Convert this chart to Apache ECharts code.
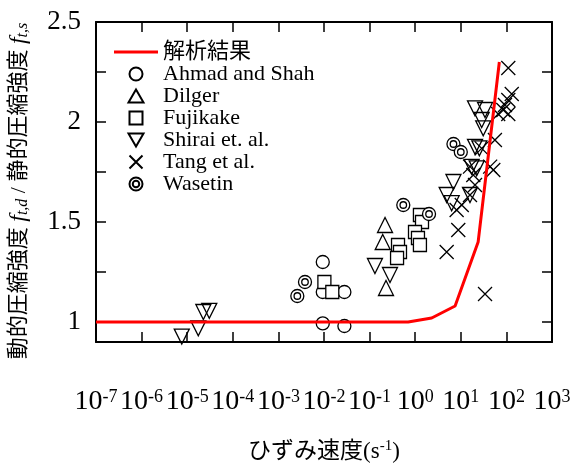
<!DOCTYPE html>
<html>
<head>
<meta charset="utf-8">
<script src="https://cdn.jsdelivr.net/npm/echarts@6/dist/echarts.min.js"></script>
<style>
html,body{margin:0;padding:0;background:#fff;}
#chart{width:579px;height:465px;}
</style>
</head>
<body>
<div id="chart"></div>
<script>
// ---- data (strain rate [1/s], dynamic/static compressive strength ratio) ----
const analysisRate  = [1e-7, 0.7, 2.3, 7.5, 24, 70];
const analysisRatio = [1.0, 1.0, 1.02, 1.08, 1.4, 2.3];

const ahmadShah = [[0.0094,1.30],[0.0094,1.15],[0.028,1.15],[0.0094,0.993],[0.028,0.98]];
const dilger = [[0.218,1.485],[0.194,1.40],[0.229,1.17]];
const fujikake = [[0.0102,1.20],[0.0152,1.15],[0.42,1.385],[0.464,1.35],[0.40,1.32],
                  [1.27,1.535],[1.41,1.50],[0.99,1.45],[1.15,1.42],[1.27,1.385]];
const shirai = [[7.6e-6,0.927],[1.75e-5,0.968],[2.26e-5,1.05],[3.05e-5,1.056],
                [0.131,1.28],[0.28,1.235],
                [20.5,2.068],[34,2.06],[28.7,2.01],[31,1.968],[20.5,1.876],[25.5,1.868],
                [17.3,1.776],[22.3,1.768],[6.9,1.70],[4.9,1.635],[15.9,1.635],[6.3,1.594]];
const tang = [[110,2.27],[131,2.14],[110,2.11],[85.5,2.06],[66,2.04],[93,2.085],[110,2.04],
              [56,1.91],[28.7,1.868],[44,1.777],[51.6,1.76],[15.9,1.777],[18.8,1.735],
              [20.5,1.685],[15.9,1.635],[10.5,1.585],[8.1,1.56],[8.8,1.46],[4.9,1.35],[34,1.14]];
const wasetin = [[0.0026,1.13],[0.00383,1.20],[0.548,1.585],[2.01,1.54],[6.9,1.89],[10,1.85]];

const xTickValues = [1e-7,1e-6,1e-5,1e-4,1e-3,1e-2,1e-1,1e0,1e1,1e2,1e3];
const yTickValues = [1,1.25,1.5,1.75,2,2.25,2.5];
const yLabelValues = [1,1.5,2,2.5];

const seriesNames = ['解析結果','Ahmad and Shah','Dilger','Fujikake','Shirai et. al.','Tang et al.','Wasetin'];

// ---- styles ----
const SERIF = "'Liberation Serif','Times New Roman','Noto Sans CJK JP',serif";
const CJK = "'Liberation Serif','Noto Sans CJK JP',serif";
const UP_TRI = 'path://M5,0L10,8.66L0,8.66Z';
const DOWN_TRI = 'path://M0,0L10,0L5,8.66Z';
const SQUARE = 'path://M0,0L10,0L10,10L0,10Z';
const CIRCLE = 'path://M0,-10A10,10,0,1,1,0,10A10,10,0,1,1,0,-10Z';
const CROSS = 'path://M0,0L10,10M0,10L10,0';
const DCIRCLE = 'path://M0,-10A10,10,0,1,1,0,10A10,10,0,1,1,0,-10ZM0,-5A5,5,0,1,1,0,5A5,5,0,1,1,0,-5Z';
const LINE_ICON = 'path://M0,0L44,0L44,3L0,3Z';

const chart = echarts.init(document.getElementById('chart'), null, {renderer:'canvas'});

function scatter(name, data, symbol, size, fill) {
  return {
    name, type:'scatter', data, symbol, symbolSize:size, z:2,
    itemStyle:{color:fill, borderColor:'#000', borderWidth:1.3, opacity:1}
  };
}

const tickStyle = {show:true, inside:true, length:10, lineStyle:{color:'#000', width:1.5}};

const option = {
  animation:false,
  backgroundColor:'#fff',
  grid:{left:96, right:27, top:22, bottom:123, show:false, containLabel:false, outerBoundsMode:'none'},
  legend:{
    orient:'vertical', left:114, top:41, padding:0,
    itemWidth:44, itemHeight:13, itemGap:0,
    textStyle:{fontFamily:CJK, fontSize:22, lineHeight:22, color:'#000'},
    data:[
      {name:'解析結果', icon:LINE_ICON},
      {name:'Ahmad and Shah', icon:CIRCLE},
      {name:'Dilger', icon:UP_TRI},
      {name:'Fujikake', icon:SQUARE},
      {name:'Shirai et. al.', icon:DOWN_TRI},
      {name:'Tang et al.', icon:CROSS},
      {name:'Wasetin', icon:DCIRCLE}
    ]
  },
  xAxis:[{
    type:'log', logBase:10, min:1e-7, max:1e3, position:'bottom',
    axisLine:{show:true, onZero:false, lineStyle:{color:'#000', width:2}},
    axisTick:Object.assign({customValues:xTickValues}, tickStyle),
    splitLine:{show:false},
    axisLabel:{
      customValues:xTickValues, margin:46, color:'#000',
      formatter:function(v){ const e = Math.round(Math.log10(v)); return '{b|10}{s|' + e + '}'; },
      rich:{
        b:{fontFamily:SERIF, fontSize:28, color:'#000', lineHeight:28},
        s:{fontFamily:SERIF, fontSize:18, color:'#000', verticalAlign:'top', lineHeight:28, padding:[0,0,13,0]}
      }
    },
    name:'ひずみ速度(s{s|-1})', nameLocation:'middle', nameGap:97,
    nameTextStyle:{fontFamily:CJK, fontSize:23, color:'#000',
      rich:{s:{fontFamily:SERIF, fontSize:15, color:'#000', verticalAlign:'top', padding:[0,0,10,0]}}}
  },{
    type:'log', logBase:10, min:1e-7, max:1e3, position:'top',
    axisLine:{show:true, onZero:false, lineStyle:{color:'#000', width:2}},
    axisTick:Object.assign({customValues:xTickValues}, tickStyle),
    axisLabel:{show:false}, splitLine:{show:false}
  }],
  yAxis:[{
    type:'value', min:0.9, max:2.5, position:'left',
    axisLine:{show:true, onZero:false, lineStyle:{color:'#000', width:2}},
    axisTick:Object.assign({customValues:yTickValues}, tickStyle),
    splitLine:{show:false},
    axisLabel:{customValues:yLabelValues, margin:15, fontFamily:SERIF, fontSize:27, color:'#000'},
    name:'動的圧縮強度 {i|f}{sub|t,d} / 静的圧縮強度 {i|f}{sub|t,s}',
    nameLocation:'middle', nameGap:65, nameRotate:90,
    nameTextStyle:{fontFamily:CJK, fontSize:22, color:'#000', padding:[0,18,0,0],
      rich:{
        i:{fontFamily:SERIF, fontStyle:'italic', fontSize:24, color:'#000'},
        sub:{fontFamily:SERIF, fontStyle:'italic', fontSize:16, color:'#000', verticalAlign:'bottom', padding:[8,0,0,0]}
      }}
  },{
    type:'value', min:0.9, max:2.5, position:'right',
    axisLine:{show:true, onZero:false, lineStyle:{color:'#000', width:2}},
    axisTick:Object.assign({customValues:yTickValues}, tickStyle),
    axisLabel:{show:false}, splitLine:{show:false}
  }],
  series:[
    {
      name:'解析結果', type:'line', symbol:'none', z:5,
      data:analysisRate.map((x,i)=>[x, analysisRatio[i]]),
      lineStyle:{color:'#ff0000', width:3}, itemStyle:{color:'#ff0000'}
    },
    scatter('Ahmad and Shah', ahmadShah, CIRCLE, 13, '#fff'),
    scatter('Dilger', dilger, UP_TRI, 15, 'rgba(0,0,0,0)'),
    scatter('Fujikake', fujikake, SQUARE, 13, '#fff'),
    scatter('Shirai et. al.', shirai, DOWN_TRI, 15, 'rgba(0,0,0,0)'),
    scatter('Tang et al.', tang, CROSS, 14, 'rgba(0,0,0,0)'),
    scatter('Wasetin', wasetin, DCIRCLE, 13, '#fff')
  ]
};
chart.setOption(option);
</script>
</body>
</html>
